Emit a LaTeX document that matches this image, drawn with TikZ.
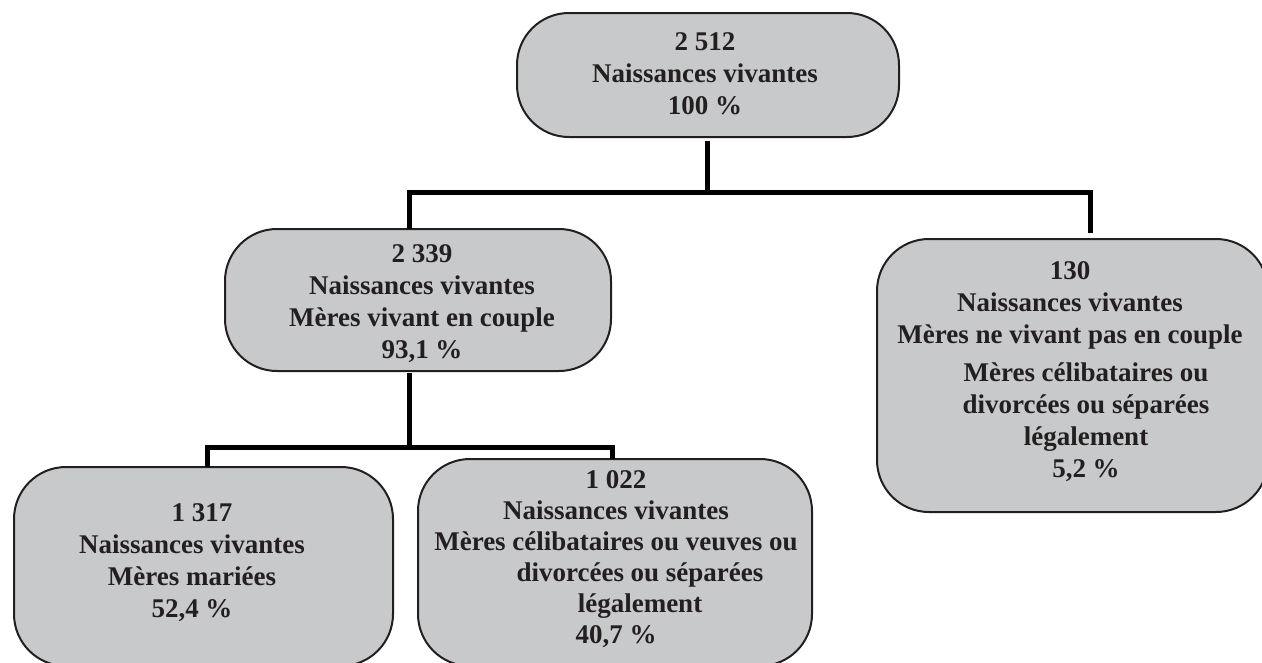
\documentclass[tikz,border=0pt]{standalone}
\usepackage{fontspec}
\setmainfont{Liberation Serif}
\definecolor{boxfill}{RGB}{200,201,203}
\definecolor{ink}{RGB}{35,31,32}
\begin{document}
\begin{tikzpicture}[x=1pt,y=-1pt,
  box/.style={draw=ink,line width=2pt,fill=boxfill,rounded corners=52pt,
    inner sep=0pt,outer sep=0pt},
  lbl/.style={align=center,inner sep=0pt,text=ink,
    font=\fontsize{27}{32}\selectfont\bfseries},
  conn/.style={line width=5pt,black,line join=miter}]
\clip (0,0) rectangle (1262,662);
% boxes
\node[box,minimum width=382pt,minimum height=124pt] (top) at (708,75) {};
\node[box,minimum width=386pt,minimum height=142pt] (mid) at (418,300) {};
\node[box,minimum width=391pt,minimum height=273pt] (right) at (1072.5,375.5) {};
\node[box,minimum width=379pt,minimum height=199pt] (bl) at (203.5,566.5) {};
\node[box,minimum width=394pt,minimum height=207pt] (bm) at (615,562.5) {};
% texts
\node[lbl] (tTop) at (705,73.5) {2 512\\Naissances vivantes\\100 \%};
\node[lbl] (tMid) at (422,303.6) {2 339\\Naissances vivantes\\Mères vivant en couple\\93,1 \%};
\node[lbl] (tRight) at (1070,371.9) {130\\Naissances vivantes\\Mères ne vivant pas en couple\\[6pt]
  \hspace*{32pt}Mères célibataires ou\\\hspace*{32pt}divorcées ou séparées\\
  \hspace*{32pt}légalement\\\hspace*{32pt}5,2 \%};
\node[lbl] (tBL) at (192,562.6) {\hspace*{20pt}1 317\\Naissances vivantes\\Mères mariées\\52,4 \%};
\node[lbl,font=\fontsize{27}{31}\selectfont\bfseries] (tBM) at (616,559.4)
  {1 022\\Naissances vivantes\\Mères célibataires ou veuves ou\\
  \hspace*{48pt}divorcées ou séparées\\\hspace*{48pt}légalement\\40,7 \%};
% connectors
\coordinate (jM) at (707,192);
\coordinate (jL) at (409,192);
\coordinate (jR) at (1090,192);
\draw[conn] ([yshift=-4pt]top.south -| jM) -- (jM);
\draw[conn] (jL |- mid.north) -- (jL) -- (jR) -- ([yshift=6pt]jR |- right.north);
\coordinate (kM) at (409,447);
\coordinate (kL) at (207,447);
\coordinate (kR) at (612,447);
\draw[conn] ([yshift=-2pt]mid.south -| kM) -- (kM);
\draw[conn] (kL |- bl.north) -- (kL) -- (kR) -- (kR |- bm.north);
\end{tikzpicture}
\end{document}
